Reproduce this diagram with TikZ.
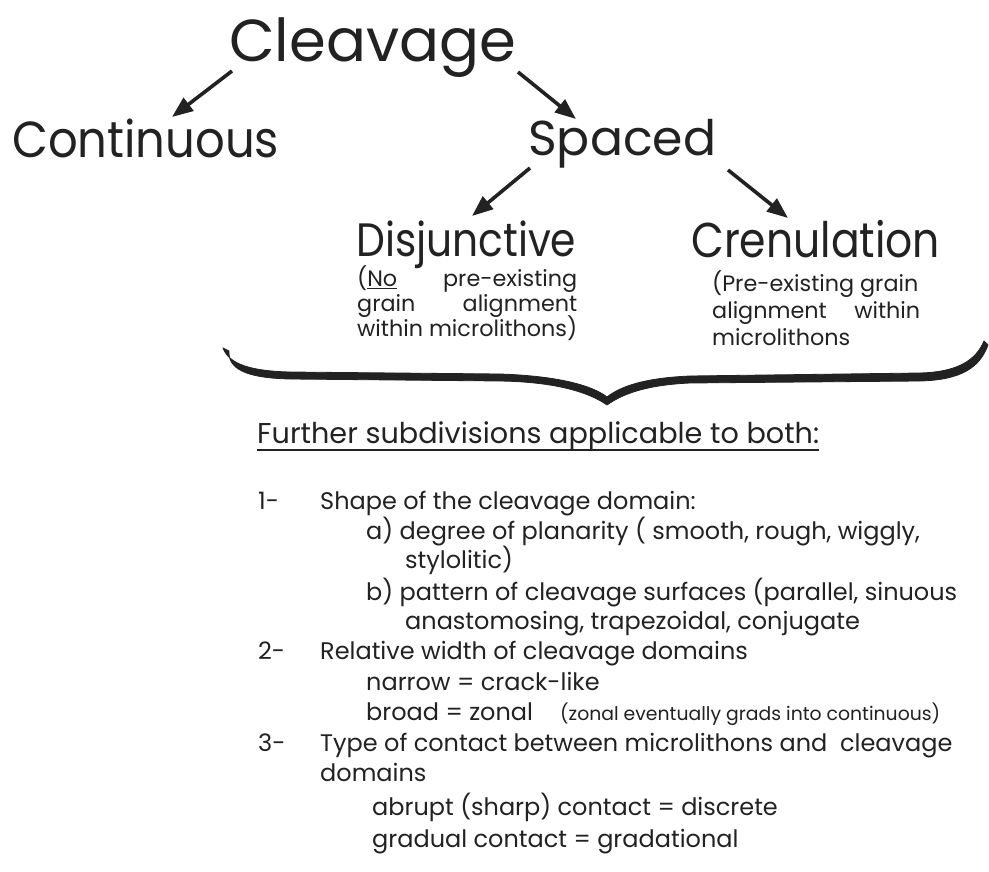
\documentclass[tikz,border=0pt]{standalone}
\usepackage{fontspec}
\setmainfont{Poppins}
\usetikzlibrary{arrows.meta}
\definecolor{ink}{HTML}{222222}
\newlength\fitw
\newcommand\sizefor[3]{\settowidth\fitw{\fontsize{10}{12}\selectfont #3}\pgfmathsetmacro\tmpsz{10*#2/\fitw}\global\let#1\tmpsz}
\newcommand\fs[1]{\fontsize{#1}{#1}\selectfont}
\newcommand\myul[1]{\setbox0\hbox{#1}\rlap{\rule[-3pt]{\wd0}{1.3pt}}\box0\relax}
\AtBeginDocument{%
\sizefor{\szCl}{287}{Cleavage}%
\sizefor{\szCo}{267}{Continuous}%
\sizefor{\szSp}{188}{Spaced}%
\sizefor{\szDi}{220}{Disjunctive}%
\sizefor{\szCr}{249}{Crenulation}%
\sizefor{\szDe}{220}{within microlithons)}%
\sizefor{\szFu}{562}{Further subdivisions applicable to both:}%
\sizefor{\szLi}{591}{b) pattern of cleavage surfaces (parallel, sinuous}%
\sizefor{\szSm}{380}{(zonal eventually grads into continuous)}%
}
\begin{document}
\begin{tikzpicture}[x=1pt,y=-1pt,
  lbl/.style={anchor=base west, inner sep=0pt, text=ink},
  arr/.style={-{Triangle[length=21pt,width=16pt]}, line width=3.6pt, draw=ink},
  brace/.style={fill=ink, draw=ink, line width=0.8pt, line join=round},
]
\useasboundingbox (0,0) rectangle (989,872);
\fill[white] (0,0) rectangle (989,872);
% main tree
\node[lbl] (cleav)  at (229,62)  {\fs{\szCl}Cleavage};
\node[lbl] (cont)   at (12,158)  {\scalebox{1}[1.09]{\fs{\szCo}Continuous}};
\node[lbl] (spaced) at (528,156) {\fs{\szSp}Spaced};
\node[lbl] (disj)   at (356,257) {\scalebox{1}[1.15]{\fs{\szDi}Disjunctive}};
\node[lbl] (cren)   at (691,258) {\scalebox{1}[1.15]{\fs{\szCr}Crenulation}};
% arrow ends
\coordinate (a1s) at (232,71);  \coordinate (a1e) at (172,117);
\coordinate (a2s) at (518,72);  \coordinate (a2e) at (576,119);
\coordinate (a3s) at (530,168); \coordinate (a3e) at (472,216);
\coordinate (a4s) at (728,170); \coordinate (a4e) at (788,218);
\draw[arr] (a1s) -- (a1e);
\draw[arr] (a2s) -- (a2e);
\draw[arr] (a3s) -- (a3e);
\draw[arr] (a4s) -- (a4e);
% descriptions
\node[lbl] (d1) at (357,286) {\fs{\szDe}\makebox[220pt][s]{(\myul{No} pre-existing}};
\node[lbl] (d2) at (357,311) {\fs{\szDe}\makebox[220pt][s]{grain alignment}};
\node[lbl] (d3) at (357,336) {\fs{\szDe}within microlithons)};
\node[lbl] (c1) at (712,291) {\fs{\szDe}(Pre-existing grain};
\node[lbl] (c2) at (712,318) {\fs{\szDe}\makebox[208pt][s]{alignment within}};
\node[lbl] (c3) at (712,345) {\fs{\szDe}microlithons};
% brace (tapered, filled)
\filldraw[brace] (223,348) .. controls (229,364) and (250,371) .. (290,372)
  -- (500,374) .. controls (560,376) and (593,386) .. (607,397)
  .. controls (621,386) and (645,378) .. (690,376)
  -- (920,373) .. controls (958,372) and (976,360) .. (984,341)
  -- (988,345) .. controls (980,367) and (962,380) .. (920,381)
  -- (690,383) .. controls (648,385) and (624,393) .. (607,405)
  .. controls (590,393) and (558,382) .. (500,381)
  -- (290,379) .. controls (244,378) and (228,368) .. (229,351) -- cycle;
% further
\node[lbl] (further) at (257,443) {\fs{\szFu}Further subdivisions applicable to both:};
\draw[ink, line width=1.8pt] ([yshift=-7pt]further.base west) -- ([yshift=-7pt]further.base east);
% list
\begin{scope}[every node/.style={lbl}]
\node (n1)   at (258,509) {\fs{\szLi}1-};
\node (t1)   at (320,509) {\fs{\szLi}Shape of the cleavage domain:};
\node (t1a)  at (366,539) {\fs{\szLi}a) degree of planarity ( smooth, rough, wiggly,};
\node (t1a2) at (405,568) {\fs{\szLi}stylolitic)};
\node (t1b)  at (366,600) {\fs{\szLi}b) pattern of cleavage surfaces (parallel, sinuous};
\node (t1b2) at (405,629) {\fs{\szLi}anastomosing, trapezoidal, conjugate};
\node (n2)   at (258,659) {\fs{\szLi}2-};
\node (t2)   at (320,659) {\fs{\szLi}Relative width of cleavage domains};
\node (t2a)  at (366,690) {\fs{\szLi}narrow = crack-like};
\node (t2b)  at (366,720) {\fs{\szLi}broad = zonal};
\node (t2c)  at (560,720) {\fs{\szSm}(zonal eventually grads into continuous)};
\node (n3)   at (258,751) {\fs{\szLi}3-};
\node (t3)   at (320,751) {\fs{\szLi}Type of contact between microlithons and \ cleavage};
\node (t3b)  at (320,781) {\fs{\szLi}domains};
\node (t3c)  at (372,815) {\fs{\szLi}abrupt (sharp) contact = discrete};
\node (t3d)  at (372,847) {\fs{\szLi}gradual contact = gradational};
\end{scope}
\end{tikzpicture}
\end{document}
